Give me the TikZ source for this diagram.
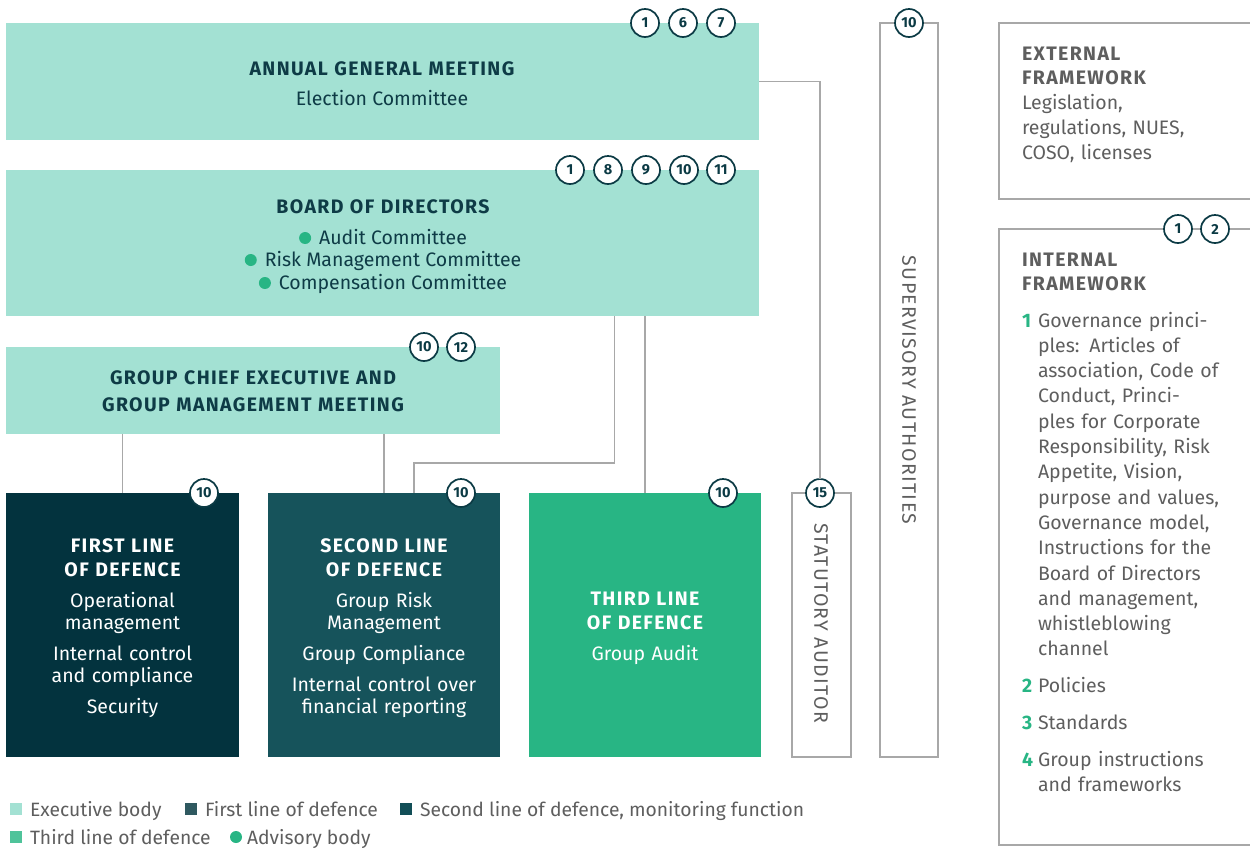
\documentclass[tikz,border=0pt]{standalone}
\usepackage{fontspec}
\setmainfont{Fira Sans}
\newfontfamily\capsfont[LetterSpace=7]{Fira Sans}
\usetikzlibrary{positioning}
\definecolor{mint}{HTML}{A3E1D3}
\definecolor{lodA}{HTML}{03333E}
\definecolor{lodB}{HTML}{16535B}
\definecolor{lodC}{HTML}{28B584}
\definecolor{tdark}{HTML}{0E3B46}
\definecolor{lgray}{HTML}{A8A8A8}
\definecolor{fgray}{HTML}{5E5E5E}
\definecolor{bdgc}{HTML}{0B3A44}
\definecolor{legA}{HTML}{2F5960}
\definecolor{legB}{HTML}{124E57}
\definecolor{legC}{HTML}{4FC39A}
\begin{document}
\begin{tikzpicture}[x=1pt,y=-1pt,
  every node/.style={inner sep=0pt, outer sep=0pt},
  panel/.style={rectangle, anchor=north west},
  frame/.style={panel, draw=lgray, line width=1.2pt},
  conn/.style={draw=lgray, line width=1.2pt},
  badge/.style={circle, draw=bdgc, line width=1.7pt, fill=white, minimum size=28pt,
     text=bdgc, font=\bfseries\fontsize{14.5}{14.5}\selectfont},
  ttl/.style={text=tdark, font=\capsfont\bfseries\fontsize{19.5}{24}\selectfont, anchor=base, align=center, text width=420pt},
  sub/.style={text=tdark, font=\fontsize{19.5}{22}\selectfont, anchor=base},
  blk/.style={anchor=base, align=center, text width=228pt, text=white, font=\fontsize{19.5}{22}\selectfont},
  hd/.style={\capsfont\bfseries},
  bul/.style={circle, fill=lodC, minimum size=12pt},
  fw/.style={anchor=base west, align=left, text width=215pt, text=fgray, font=\fontsize{19.5}{25.3}\selectfont},
  fnum/.style={anchor=base west, text=lodC, font=\bfseries\fontsize{19.5}{19.5}\selectfont},
  vert/.style={text=fgray, font=\capsfont\fontsize{19.5}{19.5}\selectfont, rotate=-90},
  leg/.style={anchor=base west, text=fgray, font=\fontsize{19.3}{19.3}\selectfont},
  legsq/.style={rectangle, minimum size=12pt}
]
\useasboundingbox (0,0) rectangle (1250,847);

% panels
\node[panel, fill=mint, minimum width=753pt, minimum height=117pt] (agm) at (6,23) {};
\node[panel, fill=mint, minimum width=753pt, minimum height=146pt] (bod) at (6,170) {};
\node[panel, fill=mint, minimum width=494pt, minimum height=87pt] (gce) at (6,347) {};
\node[panel, fill=lodA, minimum width=233pt, minimum height=264pt] (l1) at (6,493) {};
\node[panel, fill=lodB, minimum width=232pt, minimum height=264pt] (l2) at (268,493) {};
\node[panel, fill=lodC, minimum width=232pt, minimum height=264pt] (l3) at (529,493) {};
\node[frame, minimum width=59pt, minimum height=264pt] (sa) at (792,493) {};
\node[frame, minimum width=58pt, minimum height=734pt] (sup) at (880,23) {};
\node[frame, minimum width=270pt, minimum height=176pt] (ext) at (999,23) {};
\node[frame, minimum width=270pt, minimum height=616pt] (int) at (999,229) {};

% badges
\node[badge] (a1) at (645,23) {1};
\node[badge] (a6) at (683,23) {6};
\node[badge] (a7) at (721,23) {7};
\node[badge] (b1) at (570,170) {1};
\node[badge] (b8) at (608,170) {8};
\node[badge] (b9) at (646,170) {9};
\node[badge] (b10) at (684,170) {10};
\node[badge] (b11) at (721,170) {11};
\node[badge] (g10) at (424,347) {10};
\node[badge] (g12) at (461,347) {12};
\node[badge] (f10) at (204,493) {10};
\node[badge] (s10) at (461,493) {10};
\node[badge] (t10) at (723,493) {10};
\node[badge] (sa15) at (820,493) {15};
\node[badge] (sup10) at (909,23) {10};
\node[badge] (i1) at (1178,229) {1};
\node[badge] (i2) at (1215,229) {2};

% connectors
\draw[conn] (agm.east) -| (sa15.north);
\draw[conn] ([xshift=232pt]bod.south) -- ++(0,147) -| ([xshift=30pt]l2.north);
\draw[conn] (bod.south -| l3.north) -- (l3.north);
\draw[conn] (gce.south -| l1.north) -- (l1.north);
\draw[conn] (gce.south -| l2.north) -- (l2.north);

% AGM
\node[ttl] (agmt) at (382,75) {ANNUAL GENERAL MEETING};
\node[sub] (agms) at (382,105) {Election Committee};
% BoD
\node[ttl] (bodt) at (383,213) {BOARD OF DIRECTORS};
\node[sub] (c1) at (393,244) {Audit Committee};
\node[sub] (c2) at (393,266) {Risk Management Committee};
\node[sub] (c3) at (393,289) {Compensation Committee};
\node[bul] (d1) at ([shift={(-14,-6)}]c1.base west) {};
\node[bul] (d2) at ([shift={(-14,-6)}]c2.base west) {};
\node[bul] (d3) at ([shift={(-14,-6)}]c3.base west) {};
% GCE
\node[ttl] (gcet) at (253,384) {GROUP CHIEF EXECUTIVE AND\\[3pt]GROUP MANAGEMENT MEETING};
% lines of defence
\node[blk] (l1t) at (122.5,552) {{\capsfont\bfseries FIRST LINE\\[2pt]OF DEFENCE}\\[9pt]Operational\\management\\[9pt]Internal control\\and compliance\\[9pt]Security};
\node[blk] (l2t) at (384,552) {{\capsfont\bfseries SECOND LINE\\[2pt]OF DEFENCE}\\[9pt]Group Risk\\Management\\[9pt]Group Compliance\\[9pt]Internal control over\\financial reporting};
\node[blk] (l3t) at (645,605) {{\capsfont\bfseries THIRD LINE\\[2pt]OF DEFENCE}\\[9pt]Group Audit};

% vertical labels
\node[vert] (sat) at (821,623) {STATUTORY AUDITOR};
\node[vert] (supt) at (909,390) {SUPERVISORY AUTHORITIES};

% external framework
\node[fw] (extt) at (1022,60) {{\capsfont\bfseries EXTERNAL\\[-1.3pt]FRAMEWORK}\\[0pt]Legislation,\\regulations, NUES,\\COSO, licenses};
% internal framework
\node[fw] (intt) at (1022,266) {\capsfont\bfseries INTERNAL\\[-1.3pt]FRAMEWORK};
\node[fnum] (n1) at (1022,327) {1};
\node[fw] (n1t) at (1038,327) {Governance princi-\\ples: Articles of\\association, Code of\\Conduct, Princi-\\ples for Corporate\\Responsibility, Risk\\Appetite, Vision,\\purpose and values,\\Governance model,\\Instructions for the\\Board of Directors\\and management,\\whistleblowing\\channel};
\node[fnum] (n2) at (1022,692) {2};
\node[fw] (n2t) at (1038,692) {Policies};
\node[fnum] (n3) at (1022,729) {3};
\node[fw] (n3t) at (1038,729) {Standards};
\node[fnum] (n4) at (1022,766) {4};
\node[fw] (n4t) at (1038,766) {Group instructions\\and frameworks};

% legend
\node[legsq, fill=mint] (q1) at (16,809) {};
\node[leg] (q1t) at (30,816) {Executive body};
\node[legsq, fill=legA] (q2) at (191,809) {};
\node[leg] (q2t) at (205,816) {First line of defence};
\node[legsq, fill=legB] (q3) at (406,809) {};
\node[leg] (q3t) at (420,816) {Second line of defence, monitoring function};
\node[legsq, fill=legC] (q4) at (16,837) {};
\node[leg] (q4t) at (30,844) {Third line of defence};
\node[bul] (q5) at (236,837) {};
\node[leg] (q5t) at (247,844) {Advisory body};
\end{tikzpicture}
\end{document}
